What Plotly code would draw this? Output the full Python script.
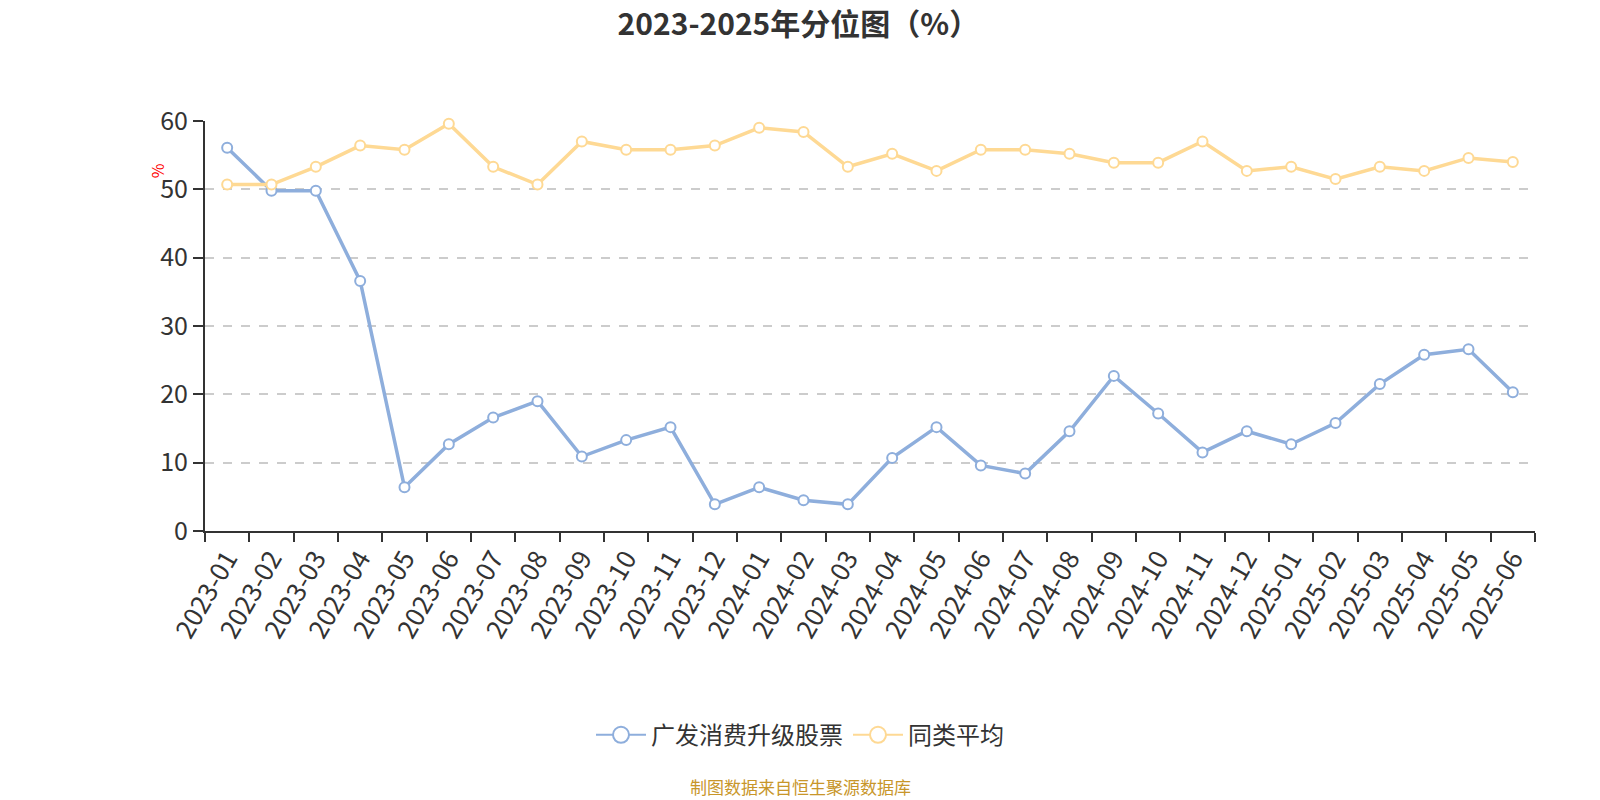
import plotly.graph_objects as go

categories = ["2023-01","2023-02","2023-03","2023-04","2023-05","2023-06","2023-07","2023-08","2023-09","2023-10","2023-11","2023-12",
              "2024-01","2024-02","2024-03","2024-04","2024-05","2024-06","2024-07","2024-08","2024-09","2024-10","2024-11","2024-12",
              "2025-01","2025-02","2025-03","2025-04","2025-05","2025-06"]
fund_name = "广发消费升级股票"
fund_values = [56.1, 49.8, 49.8, 36.6, 6.4, 12.7, 16.6, 19.0, 10.9, 13.3, 15.2, 3.9,
               6.4, 4.5, 3.9, 10.7, 15.2, 9.6, 8.4, 14.6, 22.7, 17.2, 11.5, 14.6,
               12.7, 15.8, 21.5, 25.8, 26.6, 20.3]
avg_name = "同类平均"
avg_values = [50.7, 50.7, 53.3, 56.4, 55.8, 59.6, 53.3, 50.7, 57.0, 55.8, 55.8, 56.4,
              59.0, 58.4, 53.3, 55.2, 52.7, 55.8, 55.8, 55.2, 53.9, 53.9, 57.0, 52.7,
              53.3, 51.5, 53.3, 52.7, 54.6, 54.0]
y_ticks = [0, 10, 20, 30, 40, 50, 60]

FONT = "Noto Sans CJK SC"
BLUE = "#8eaedc"
YELLOW = "#fed994"

fig = go.Figure()
for name, vals, col in [(fund_name, fund_values, BLUE), (avg_name, avg_values, YELLOW)]:
    fig.add_trace(go.Scatter(
        x=categories, y=vals, name=name, mode="lines+markers", showlegend=False,
        line=dict(color=col, width=3.5), cliponaxis=False,
        marker=dict(symbol="circle", size=10, color="white", line=dict(color=col, width=2)),
    ))
for name, col in [(fund_name, BLUE), (avg_name, YELLOW)]:
    fig.add_trace(go.Scatter(
        x=[None], y=[None], name=name, mode="lines+markers", showlegend=True,
        line=dict(color=col, width=2),
        marker=dict(symbol="circle", size=20, color="white", line=dict(color=col, width=2)),
    ))

fig.update_layout(
    width=1600, height=800,
    paper_bgcolor="white", plot_bgcolor="white",
    margin=dict(l=205, r=65, t=121, b=269, autoexpand=False),
    font=dict(family=FONT, color="#333333"),
    title=dict(text="<b>2023-2025年分位图（%）</b>", x=0.499, xanchor="center", y=0.97, yanchor="middle",
               font=dict(size=30, color="#333333", family=FONT)),
    showlegend=True,
    legend=dict(orientation="h", xref="container", x=0.5, xanchor="center", yref="container", y=0.081, yanchor="middle",
                font=dict(size=24, color="#333333"), itemwidth=50, tracegroupgap=0),
)
fig.update_xaxes(
    type="category", range=[-0.5, len(categories) - 0.5], automargin=False,
    showline=True, linecolor="#333333", linewidth=2,
    ticks="outside", tickson="boundaries", ticklen=9, tickcolor="#333333", tickwidth=2,
    tickangle=-60, tickfont=dict(size=26, color="#333333"),
    showgrid=False, zeroline=False,
)
fig.update_yaxes(
    range=[0, 60], tickvals=y_ticks, automargin=False,
    showline=True, linecolor="#333333", linewidth=2,
    ticks="outside", ticklen=10, tickcolor="#333333", tickwidth=2,
    tickfont=dict(size=25, color="#333333"),
    showgrid=True, gridcolor="#cccccc", griddash="dash", gridwidth=1.5,
    zeroline=False,
)
fig.add_annotation(text="%", xref="paper", yref="paper", x=-0.047, y=0.902, showarrow=False,
                   textangle=-90, font=dict(size=16, color="red", family=FONT))
fig.add_annotation(text="制图数据来自恒生聚源数据库", xref="paper", yref="paper", x=0.4474, y=-0.624,
                   xanchor="center", yanchor="middle", showarrow=False,
                   font=dict(size=17, color="#c8962a", family=FONT))
fig.write_html("out.html", post_script="document.body.style.margin='0';",
               config={"displayModeBar": False})
